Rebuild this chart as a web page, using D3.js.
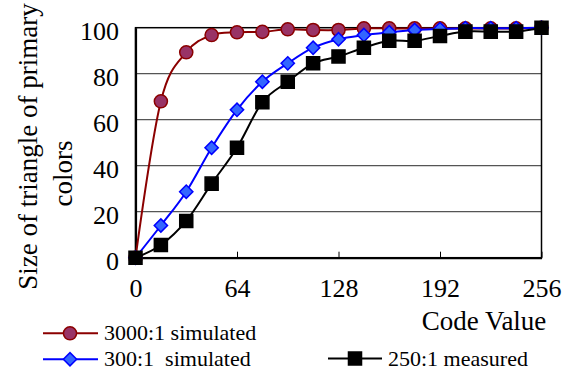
<!DOCTYPE html>
<html>
<head>
<meta charset="utf-8">
<script src="https://cdn.jsdelivr.net/npm/d3@7"></script>
<style>
  body { margin: 0; background: #fff; }
  text { font-family: "Liberation Serif", "Times New Roman", serif; fill: #000; }
</style>
</head>
<body>
<div id="chart"></div>
<script>
// data
let codes = [0, 16, 32, 48, 64, 80, 96, 112, 128, 144, 160, 176, 192, 208, 224, 240, 256];
let sim3000 = [0, 68, 89.3, 96.8, 98, 98.2, 99.3, 99, 99, 99.7, 99.7, 99.7, 99.7, 99.7, 99.7, 99.7, 100];
let sim300 = [0, 14, 28.7, 47.8, 64.3, 76.5, 84.5, 91.3, 95, 96.8, 98, 99, 99.4, 99.8, 99.8, 99.8, 100];
let meas250 = [0, 5.5, 16, 32.2, 47.8, 67.6, 76.5, 84.5, 87.5, 91.3, 94.3, 94.3, 96.4, 98.3, 98.3, 98.3, 100];
let seriesNames = ["3000:1 simulated", "300:1  simulated", "250:1 measured"];
let xTicks = [0, 64, 128, 192, 256];
let yTicks = [0, 20, 40, 60, 80, 100];

let margin = {top: 27.7, right: 29.5, bottom: 113.3, left: 135.5};
let width = 571 - margin.left - margin.right;
let height = 371 - margin.top - margin.bottom;

let svg = d3.select("#chart")
    .append("svg")
        .attr("width", 571)
        .attr("height", 371);

let g = svg.append("g")
    .attr("transform", "translate(" + margin.left + "," + margin.top + ")");

let x = d3.scaleLinear().domain([0, 256]).range([0, width]);
let y = d3.scaleLinear().domain([0, 100]).range([height, 0]);

// gridlines
g.selectAll(".grid")
    .data(yTicks.slice(1, -1))
    .enter()
    .append("line")
        .attr("x1", 0)
        .attr("x2", width)
        .attr("y1", function(d) { return y(d); })
        .attr("y2", function(d) { return y(d); })
        .attr("stroke", "#555")
        .attr("stroke-width", 1.2);

// frame
g.append("rect")
    .attr("x", 0).attr("y", 0)
    .attr("width", width).attr("height", height)
    .attr("fill", "none")
    .attr("stroke", "#000")
    .attr("stroke-width", 1.5);

// Y axis
let yAxis = g.append("g")
    .call(d3.axisLeft(y).tickValues(yTicks).tickSize(0).tickPadding(16.5));
yAxis.select(".domain").attr("stroke", "#000").attr("stroke-width", 2.2);
yAxis.selectAll("text")
    .attr("dy", 12)
    .style("font-size", "26px")
    .style("font-family", "'Liberation Serif', serif");

// X axis
let xAxis = g.append("g")
    .attr("transform", "translate(0," + height + ")")
    .call(d3.axisBottom(x).tickValues(xTicks).tickSizeInner(-6).tickSizeOuter(0));
xAxis.select(".domain").attr("stroke", "#000").attr("stroke-width", 2.2);
xAxis.selectAll("line").attr("stroke", "#000").attr("stroke-width", 1);
xAxis.selectAll("text")
    .attr("y", 39.5)
    .attr("dy", 0)
    .style("font-size", "26px")
    .style("font-family", "'Liberation Serif', serif");

// axis titles
svg.append("text")
    .attr("text-anchor", "middle")
    .attr("transform", "translate(37,146.5)rotate(-90)")
    .style("font-size", "27px")
    .text("Size of triangle of primary");
svg.append("text")
    .attr("text-anchor", "middle")
    .attr("transform", "translate(72,173.5)rotate(-90)")
    .style("font-size", "27px")
    .text("colors");
svg.append("text")
    .attr("text-anchor", "middle")
    .attr("x", 484)
    .attr("y", 329.5)
    .style("font-size", "27px")
    .text("Code Value");

// lines and markers (diamond = square turned 45deg)
let styles = [
    {line: "#8b0000", fill: "#993366", stroke: "#8b0000", shape: d3.symbolCircle, size: 135, rot: 0},
    {line: "#0000ff", fill: "#3366ff", stroke: "#0000ff", shape: d3.symbolSquare, size: 88, rot: 45},
    {line: "#000000", fill: "#000000", stroke: "#000000", shape: d3.symbolSquare, size: 170, rot: 0}
];
let allSeries = [sim3000, sim300, meas250];

let line = d3.line()
    .x(function(d, i) { return x(codes[i]); })
    .y(function(d) { return y(d); })
    .curve(d3.curveCatmullRom.alpha(0));

allSeries.forEach(function(vals, k) {
    let s = styles[k];
    g.append("path")
        .datum(vals)
        .attr("fill", "none")
        .attr("stroke", s.line)
        .attr("stroke-width", 2)
        .attr("d", line);
    g.selectAll(".m" + k)
        .data(vals)
        .enter()
        .append("path")
            .attr("transform", function(d, i) { return "translate(" + x(codes[i]) + "," + y(d) + ")rotate(" + s.rot + ")"; })
            .attr("d", d3.symbol().type(s.shape).size(s.size))
            .attr("fill", s.fill)
            .attr("stroke", s.stroke)
            .attr("stroke-width", 1.5);
});

// legend
let legendPos = [
    {x1: 43, x2: 98, mx: 70, cy: 333.3, tx: 104, ty: 340},
    {x1: 43, x2: 98, mx: 70, cy: 359.3, tx: 104, ty: 366},
    {x1: 328, x2: 382, mx: 355, cy: 358.5, tx: 388, ty: 365.5}
];
legendPos.forEach(function(p, k) {
    let s = styles[k];
    svg.append("line")
        .attr("x1", p.x1).attr("x2", p.x2)
        .attr("y1", p.cy).attr("y2", p.cy)
        .attr("stroke", s.line)
        .attr("stroke-width", 2);
    svg.append("path")
        .attr("transform", "translate(" + p.mx + "," + p.cy + ")rotate(" + s.rot + ")")
        .attr("d", d3.symbol().type(s.shape).size(s.size))
        .attr("fill", s.fill)
        .attr("stroke", s.stroke)
        .attr("stroke-width", 1.5);
    svg.append("text")
        .attr("x", p.tx)
        .attr("y", p.ty)
        .style("font-size", "22px")
        .style("white-space", "pre")
        .attr("xml:space", "preserve")
        .text(seriesNames[k]);
});
</script>
</body>
</html>
